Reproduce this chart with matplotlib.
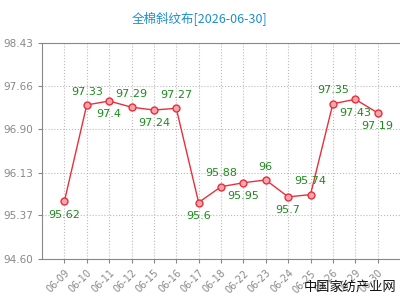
import matplotlib.pyplot as plt
import numpy as np

plt.rcParams['font.family'] = ['Noto Sans CJK SC', 'DejaVu Sans']

# data
dates = ["06-09", "06-10", "06-11", "06-12", "06-15", "06-16", "06-17", "06-18",
         "06-22", "06-23", "06-24", "06-25", "06-26", "06-29", "06-30"]
prices = [95.62, 97.33, 97.4, 97.29, 97.24, 97.27, 95.6, 95.88,
          95.95, 96.0, 95.7, 95.74, 97.35, 97.43, 97.19]
label_pos = ["below", "above", "below", "above", "below", "above", "below", "above",
             "below", "above", "below", "above", "above", "below", "below"]
yticks = [94.60, 95.37, 96.13, 96.90, 97.66, 98.43]

fig = plt.figure(figsize=(4, 3), dpi=100)
ax = fig.add_axes([0.105, 0.137, 0.895, 0.72])

x = np.arange(len(dates))
ax.plot(x, prices, color="#E8303A", linewidth=1, marker="o", markersize=5,
        markerfacecolor="#F4A6AE", markeredgecolor="#E8303A", markeredgewidth=1, zorder=3)

for xi, v, pos in zip(x, prices, label_pos):
    txt = f"{v:g}"
    if pos == "above":
        ax.annotate(txt, (xi, v), xytext=(0, 6), textcoords="offset points",
                    ha="center", va="bottom", fontsize=8, color="#1E8A1E",
                    family="DejaVu Sans")
    else:
        ax.annotate(txt, (xi, v), xytext=(0, -6), textcoords="offset points",
                    ha="center", va="top", fontsize=8, color="#1E8A1E",
                    family="DejaVu Sans")

ax.set_xlim(-1, len(dates))
ax.set_ylim(yticks[0], yticks[-1])
ax.set_yticks(yticks)
ax.set_yticklabels([f"{t:.2f}" for t in yticks], fontsize=7.5, color="#777777",
                   family="DejaVu Sans")
ax.set_xticks(x)
ax.set_xticklabels(dates, rotation=45, ha="right", rotation_mode="anchor",
                   fontsize=7, color="#777777", family="DejaVu Sans")

ax.grid(True, linestyle=":", color="#BBBBBB", linewidth=0.8)
for s in ["left", "bottom", "top"]:
    ax.spines[s].set_color("#888888")
ax.spines["right"].set_visible(False)
ax.tick_params(colors="#888888", length=3)

fig.text(0.5, 0.94, "全棉斜纹布[2026-06-30]", ha="center", va="center",
         fontsize=9, color="#1E8FC8")
fig.text(0.99, 0.02, "中国家纺产业网", ha="right", va="bottom", fontsize=9.5, color="#111111")

fig.savefig("out.png", dpi=100)
